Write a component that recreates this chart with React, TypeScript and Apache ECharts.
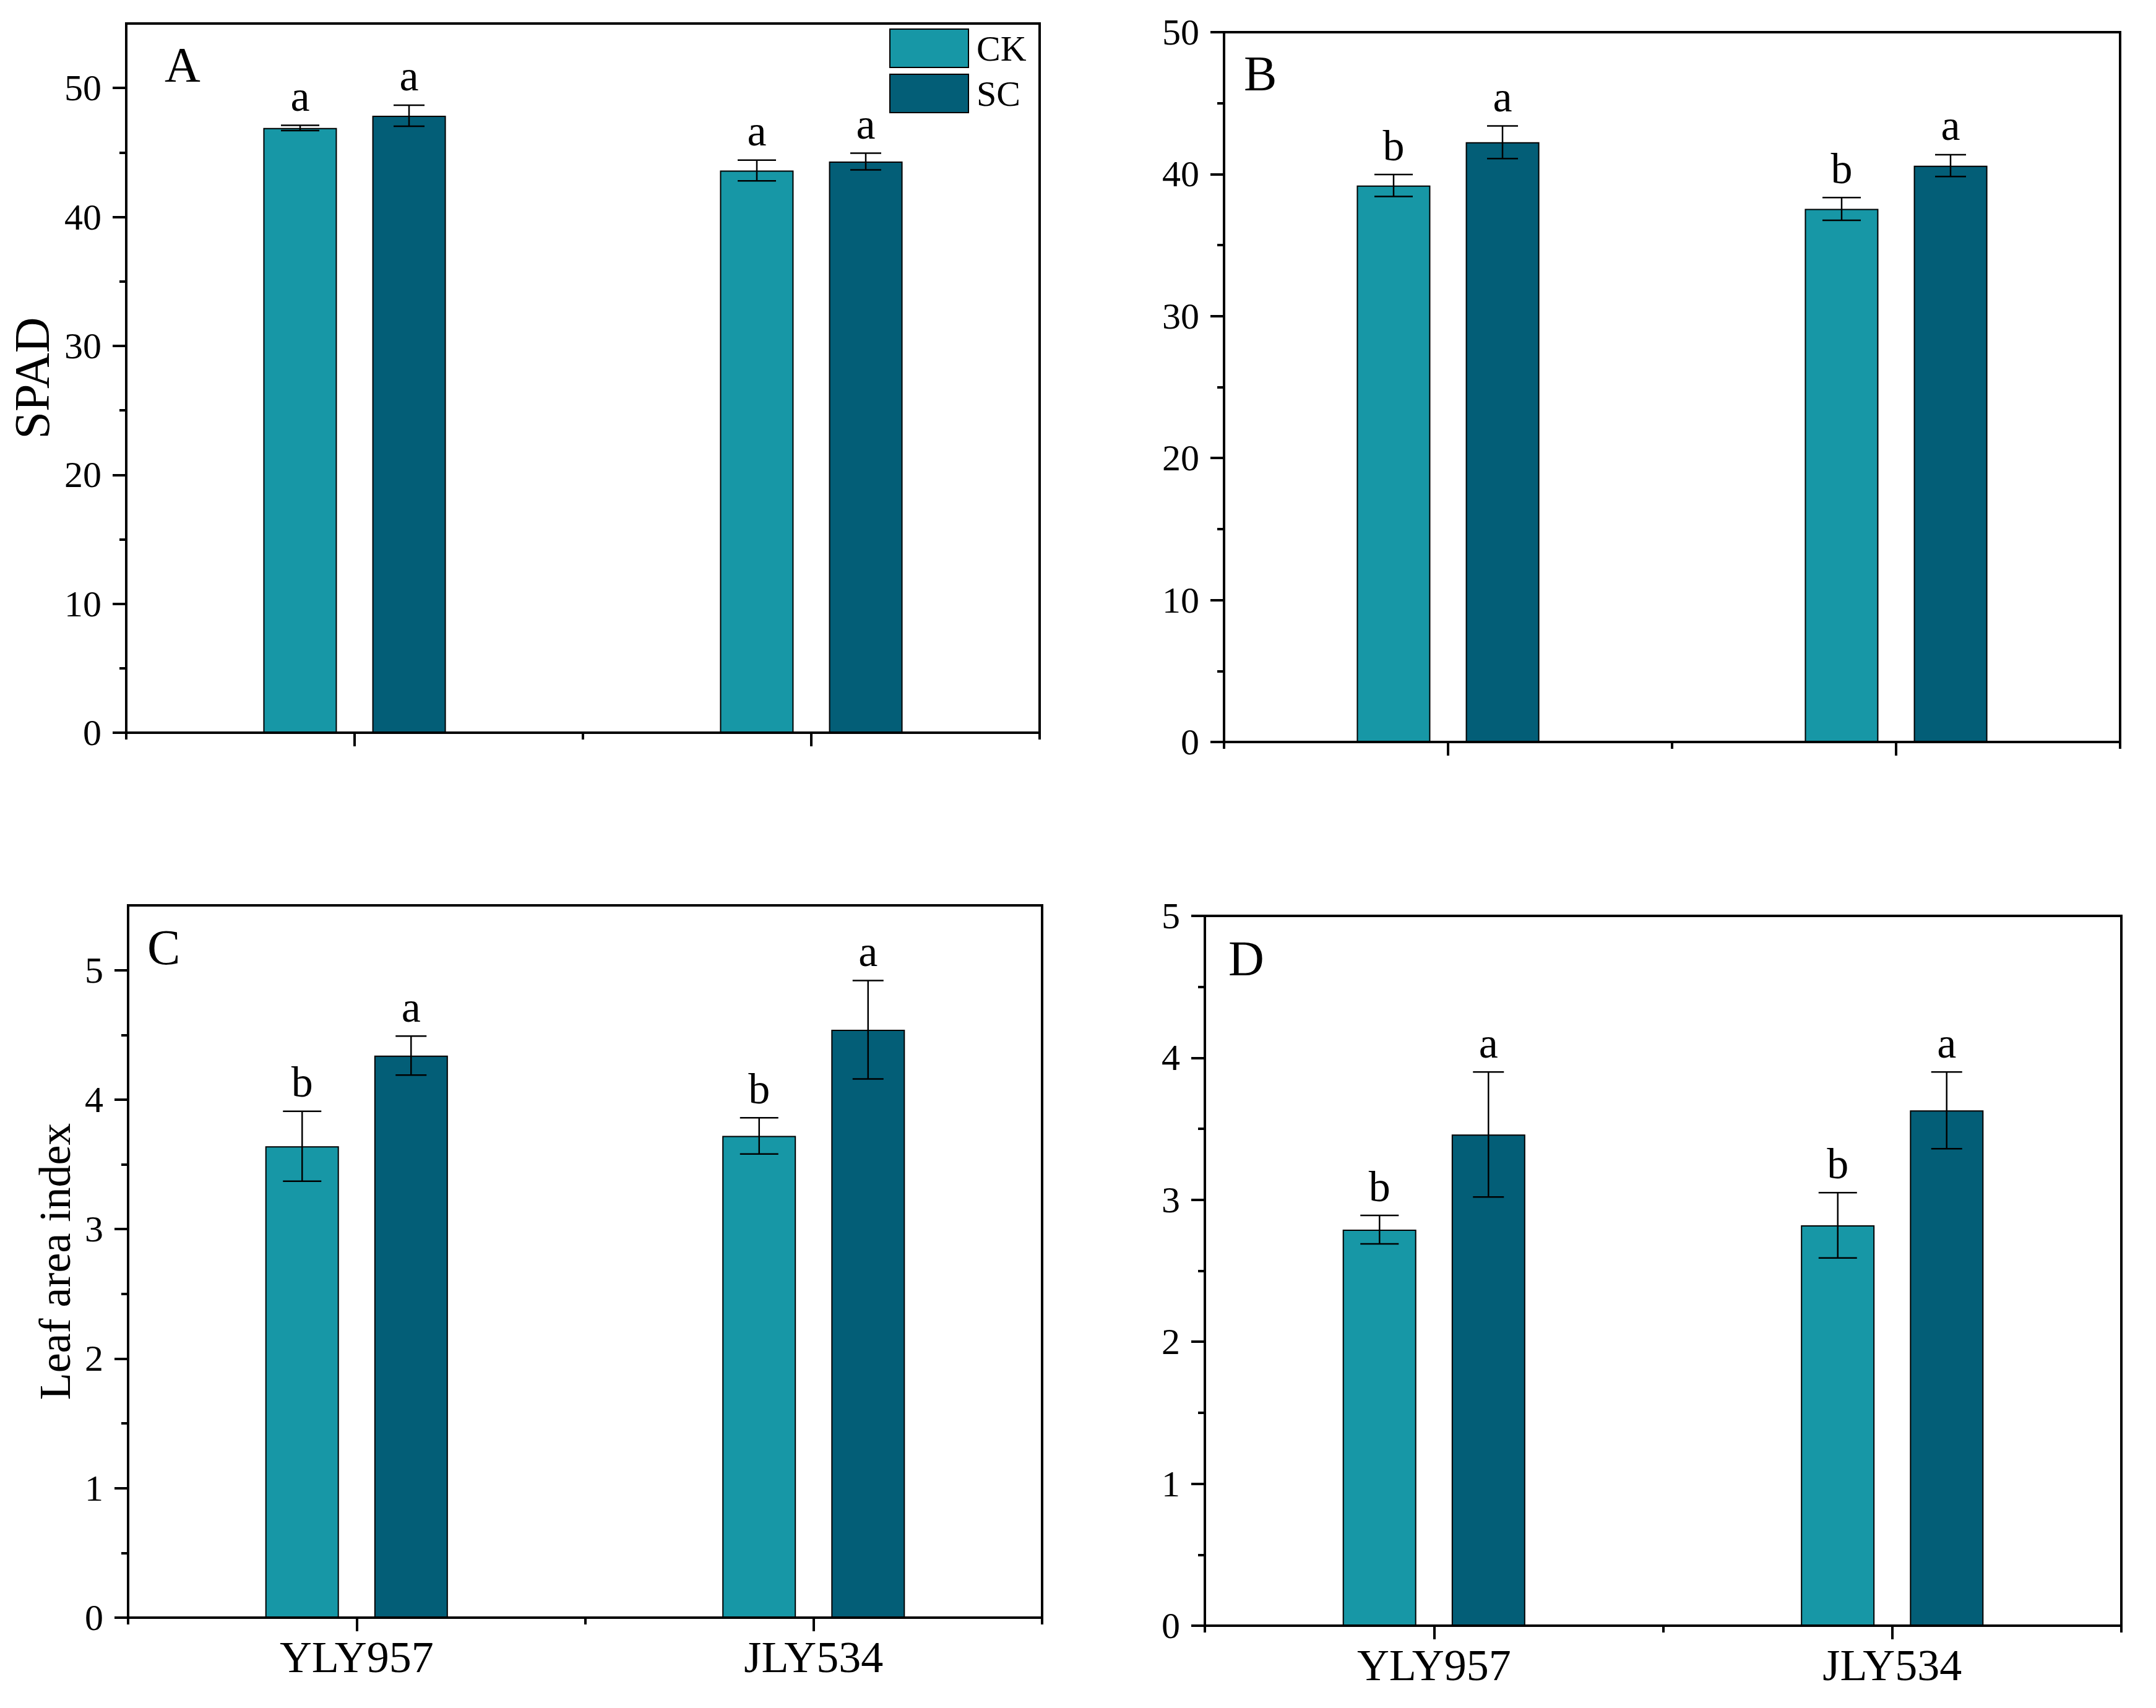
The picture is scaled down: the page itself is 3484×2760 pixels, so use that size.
import React, { useEffect, useRef } from 'react';
import * as echarts from 'echarts';

// ---------- data ----------
const categories = ['YLY957', 'JLY534'];
const treatments = ['CK', 'SC'];

// Panel A: SPAD (first stage)
const ckA = [46.9, 43.6];
const ckAErr = [0.2, 0.8];
const scA = [47.85, 44.3];
const scAErr = [0.82, 0.65];
const ckALetters = ['a', 'a'];
const scALetters = ['a', 'a'];

// Panel B: SPAD (second stage)
const ckB = [39.2, 37.55];
const ckBErr = [0.77, 0.8];
const scB = [42.25, 40.6];
const scBErr = [1.15, 0.77];
const ckBLetters = ['b', 'b'];
const scBLetters = ['a', 'a'];

// Panel C: leaf area index (first stage)
const ckC = [3.64, 3.72];
const ckCErr = [0.27, 0.14];
const scC = [4.34, 4.54];
const scCErr = [0.15, 0.38];
const ckCLetters = ['b', 'b'];
const scCLetters = ['a', 'a'];

// Panel D: leaf area index (second stage)
const ckD = [2.79, 2.82];
const ckDErr = [0.1, 0.23];
const scD = [3.46, 3.63];
const scDErr = [0.44, 0.27];
const ckDLetters = ['b', 'b'];
const scDLetters = ['a', 'a'];

// axis ticks
const spadMajor = [0, 10, 20, 30, 40, 50];
const spadMinor = [5, 15, 25, 35, 45];
const laiMajor = [0, 1, 2, 3, 4, 5];
const laiMinor = [0.5, 1.5, 2.5, 3.5, 4.5];

// ---------- styles / layout ----------
const FONT = '"Liberation Serif", "Times New Roman", serif';
const COLORS = ['#1797A6', '#035E77'];
const BAR_W = 119;
const BAR_GAP = 57;
const OFFSET = (BAR_W + BAR_GAP) / 2;

const panels = [
  {
    label: 'A', grid: { left: 204, top: 38, width: 1476, height: 1146 }, max: 55,
    major: spadMajor, minor: spadMinor, yName: 'SPAD', nameGap: 112, nameSize: 80, showX: false,
    letterPos: [266, 105],
    ck: ckA, ckErr: ckAErr, ckL: ckALetters, sc: scA, scErr: scAErr, scL: scALetters,
  },
  {
    label: 'B', grid: { left: 1978, top: 52, width: 1448, height: 1147 }, max: 50,
    major: spadMajor, minor: spadMinor, yName: '', nameGap: 100, nameSize: 72, showX: false,
    letterPos: [2010, 119],
    ck: ckB, ckErr: ckBErr, ckL: ckBLetters, sc: scB, scErr: scBErr, scL: scBLetters,
  },
  {
    label: 'C', grid: { left: 207, top: 1463, width: 1477, height: 1151 }, max: 5.5,
    major: laiMajor, minor: laiMinor, yName: 'Leaf area index', nameGap: 82, nameSize: 72, showX: true,
    letterPos: [238, 1531],
    ck: ckC, ckErr: ckCErr, ckL: ckCLetters, sc: scC, scErr: scCErr, scL: scCLetters,
  },
  {
    label: 'D', grid: { left: 1947, top: 1480, width: 1481, height: 1147 }, max: 5,
    major: laiMajor, minor: laiMinor, yName: '', nameGap: 72, nameSize: 72, showX: true,
    letterPos: [1985, 1549],
    ck: ckD, ckErr: ckDErr, ckL: ckDLetters, sc: scD, scErr: scDErr, scL: scDLetters,
  },
];

function errorSeries(
  name: string, values: number[], errs: number[], letters: string[],
  axisIdx: number, offset: number, capHalf: number,
) {
  return {
    type: 'custom',
    name: name + '-err',
    xAxisIndex: axisIdx,
    yAxisIndex: axisIdx,
    z: 5,
    clip: false,
    silent: true,
    encode: { x: 0, y: 1 },
    data: values.map((v, i) => [i, v, errs[i]]),
    renderItem: (params: any, api: any) => {
      const idx = api.value(0);
      const v = api.value(1);
      const e = api.value(2);
      const c = api.coord([idx, v]);
      const t = api.coord([idx, v + e]);
      const b = api.coord([idx, v - e]);
      const x = c[0] + offset;
      const ls = { stroke: '#000', lineWidth: 2.5 };
      return {
        type: 'group',
        children: [
          { type: 'line', shape: { x1: x, y1: t[1], x2: x, y2: b[1] }, style: ls },
          { type: 'line', shape: { x1: x - capHalf, y1: t[1], x2: x + capHalf, y2: t[1] }, style: ls },
          { type: 'line', shape: { x1: x - capHalf, y1: b[1], x2: x + capHalf, y2: b[1] }, style: ls },
          {
            type: 'text',
            x: x,
            y: t[1] - 12,
            style: {
              text: letters[params.dataIndex],
              fontFamily: FONT,
              fontSize: 70,
              fill: '#000',
              align: 'center',
              verticalAlign: 'bottom',
            },
          },
        ],
      };
    },
  };
}

function buildOption() {
  const grid: any[] = [];
  const xAxis: any[] = [];
  const yAxis: any[] = [];
  const series: any[] = [];
  const graphic: any[] = [];

  panels.forEach((p, pi) => {
    grid.push({ ...p.grid, show: true, borderColor: '#000', borderWidth: 4, backgroundColor: 'transparent' });
    const main = pi * 2;
    xAxis.push({
      type: 'category', gridIndex: pi, data: categories, position: 'bottom',
      axisLine: { show: true, lineStyle: { color: '#000', width: 4 } },
      axisTick: { show: true, alignWithLabel: true, length: 22, lineStyle: { color: '#000', width: 4 } },
      axisLabel: { show: p.showX, interval: 0, margin: 28, fontFamily: FONT, fontSize: 72, color: '#000' },
      splitLine: { show: false },
    });
    xAxis.push({
      type: 'category', gridIndex: pi, data: categories, position: 'bottom',
      axisLine: { show: false },
      axisTick: { show: true, alignWithLabel: false, length: 11, lineStyle: { color: '#000', width: 4 } },
      axisLabel: { show: false },
      splitLine: { show: false },
    });
    yAxis.push({
      type: 'value', gridIndex: pi, min: 0, max: p.max, position: 'left',
      name: p.yName, nameLocation: 'middle', nameRotate: 90, nameGap: p.nameGap,
      nameTextStyle: { fontFamily: FONT, fontSize: p.nameSize, color: '#000' },
      axisLine: { show: true, lineStyle: { color: '#000', width: 4 } },
      axisTick: { show: true, length: 22, customValues: p.major, lineStyle: { color: '#000', width: 4 } },
      axisLabel: { show: true, customValues: p.major, margin: 40, fontFamily: FONT, fontSize: 60, color: '#000' },
      splitLine: { show: false },
    });
    yAxis.push({
      type: 'value', gridIndex: pi, min: 0, max: p.max, position: 'left',
      axisLine: { show: false },
      axisTick: { show: true, length: 11, customValues: p.minor, lineStyle: { color: '#000', width: 4 } },
      axisLabel: { show: false },
      splitLine: { show: false },
    });

    const sets = [
      { name: treatments[0], vals: p.ck, errs: p.ckErr, letters: p.ckL, color: COLORS[0], off: -OFFSET, cap: 31 },
      { name: treatments[1], vals: p.sc, errs: p.scErr, letters: p.scL, color: COLORS[1], off: OFFSET, cap: 25 },
    ];
    sets.forEach((s) => {
      series.push({
        type: 'bar', name: s.name, xAxisIndex: main, yAxisIndex: main,
        data: s.vals, barWidth: BAR_W, barGap: '48%',
        itemStyle: { color: s.color, borderColor: '#000', borderWidth: 2 },
        emphasis: { disabled: true },
      });
    });
    sets.forEach((s) => {
      series.push(errorSeries(s.name, s.vals, s.errs, s.letters, main, s.off, s.cap));
    });

    graphic.push({
      type: 'text', x: p.letterPos[0], y: p.letterPos[1],
      style: { text: p.label, fontFamily: FONT, fontSize: 80, fill: '#000', align: 'left', verticalAlign: 'middle' },
    });
  });

  return {
    animation: false,
    backgroundColor: '#fff',
    grid, xAxis, yAxis, series, graphic,
    legend: {
      data: treatments,
      left: 1437, top: 46, orient: 'vertical',
      itemWidth: 127, itemHeight: 62, itemGap: 9, icon: 'rect', padding: 0,
      selectedMode: false,
      textStyle: { fontFamily: FONT, fontSize: 58, color: '#000', padding: [0, 0, 0, 8] },
    },
  };
}

export default function App() {
  const ref = useRef<HTMLDivElement>(null);
  useEffect(() => {
    const chart = echarts.init(ref.current as HTMLDivElement, null, { renderer: 'svg' });
    chart.setOption(buildOption() as any);
    return () => chart.dispose();
  }, []);
  return (
    <div
      ref={ref}
      style={{ position: 'absolute', left: 0, top: 0, width: 3484, height: 2760, background: '#fff' }}
    />
  );
}
